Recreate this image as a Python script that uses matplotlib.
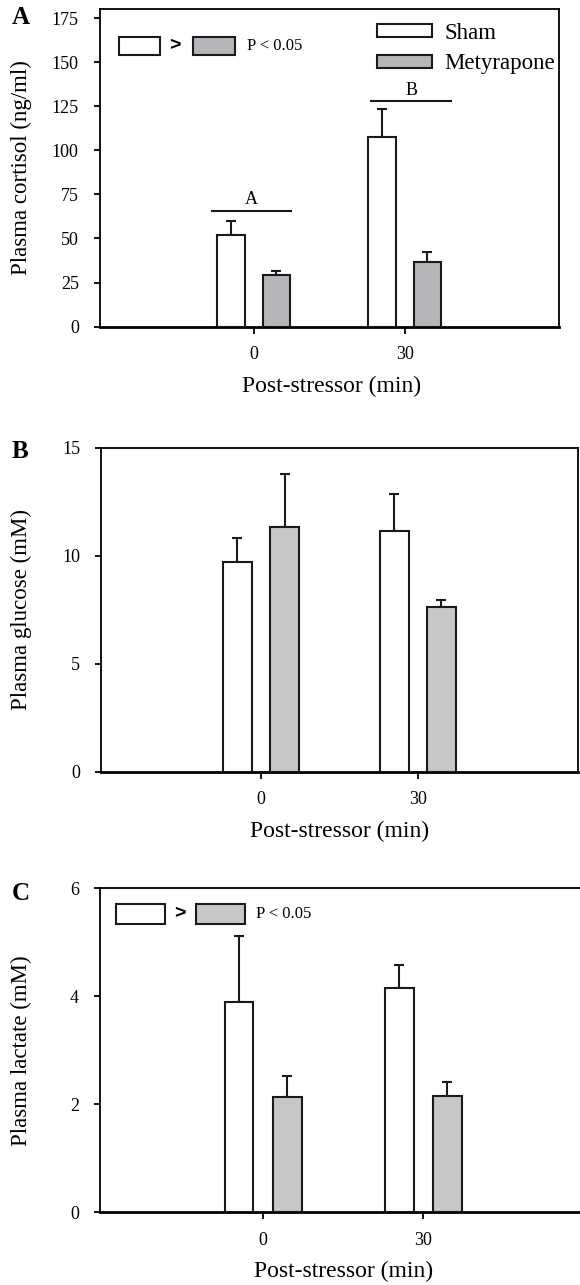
import matplotlib
matplotlib.use("Agg")
import matplotlib.pyplot as plt
from matplotlib.patches import Rectangle
import numpy as np

plt.rcParams['font.family'] = ['Liberation Serif', 'DejaVu Serif']

# --- データ ---
times = ["0", "30"]
groups = ["Sham", "Metyrapone"]

cortisol_sham = [52.0, 107.6]
cortisol_sham_err = [7.8, 15.9]
cortisol_mety = [29.1, 36.5]
cortisol_mety_err = [2.5, 6.1]

glucose_sham = [9.71, 11.14]
glucose_sham_err = [1.12, 1.70]
glucose_mety = [11.34, 7.61]
glucose_mety_err = [2.44, 0.34]

lactate_sham = [3.89, 4.15]
lactate_sham_err = [1.22, 0.43]
lactate_mety = [2.13, 2.15]
lactate_mety_err = [0.39, 0.27]

# 有意差ライン (A, B)
sig_labels = ["A", "B"]
sig_y = [65.6, 127.7]

GREY_A = "#b4b6b9"
GREY_BC = "#c6c7c8"

fig = plt.figure(figsize=(5.8, 12.85), dpi=100)

def panel(rect, sham, sham_err, mety, mety_err, ylim, yticks, ylabel, grey, ylab_x):
    ax = fig.add_axes(rect)
    x = np.arange(len(times))
    w = 0.18
    ax.bar(x - 0.15, sham, w, color="white", edgecolor="#1a1a1a", linewidth=1.5, zorder=3, label=groups[0])
    ax.bar(x + 0.15, mety, w, color=grey, edgecolor="#1a1a1a", linewidth=1.5, zorder=3, label=groups[1])
    ax.errorbar(x - 0.15, sham, yerr=[np.zeros(len(sham)), sham_err], fmt="none",
                ecolor="#1a1a1a", elinewidth=1.5, capsize=3.6, capthick=1.5, zorder=2)
    ax.errorbar(x + 0.15, mety, yerr=[np.zeros(len(mety)), mety_err], fmt="none",
                ecolor="#1a1a1a", elinewidth=1.5, capsize=3.6, capthick=1.5, zorder=2)
    ax.set_xlim(-1.02, 2.02)
    ax.set_ylim(*ylim)
    ax.set_xticks(x)
    ax.set_xticklabels(times)
    ax.set_yticks(yticks)
    ax.tick_params(axis="both", direction="out", length=4, width=1.3, labelsize=13, pad=11)
    ax.tick_params(axis="x", length=5, pad=9)
    for s in ["top", "right", "left"]:
        ax.spines[s].set_linewidth(1.3)
    ax.spines["bottom"].set_linewidth(2.0)
    ax.set_ylabel(ylabel, fontsize=16.5)
    ax.yaxis.set_label_coords(ylab_x, 0.5)
    ax.set_xlabel("Post-stressor (min)", fontsize=17)
    return ax

def sig_legend(ax, x0, x1, x2, x3, y0, y1, gx, tx, grey):
    ax.add_patch(Rectangle((x0, y0), x1 - x0, y1 - y0, transform=ax.transAxes,
                           facecolor="white", edgecolor="#1a1a1a", linewidth=1.5, zorder=4))
    ax.add_patch(Rectangle((x2, y0), x3 - x2, y1 - y0, transform=ax.transAxes,
                           facecolor=grey, edgecolor="#1a1a1a", linewidth=1.5, zorder=4))
    ax.text(gx, (y0 + y1) / 2, ">", transform=ax.transAxes, ha="center", va="center",
            fontsize=14, fontweight="bold", family=["Liberation Sans", "DejaVu Sans"])
    ax.text(tx, (y0 + y1) / 2, "P < 0.05", transform=ax.transAxes, ha="left", va="center", fontsize=12)

# --- A ---
axA = panel([0.1717, 0.7458, 0.7916, 0.2470], cortisol_sham, cortisol_sham_err,
            cortisol_mety, cortisol_mety_err, (0, 180), np.arange(0, 176, 25),
            "Plasma cortisol (ng/ml)", GREY_A, -0.147)
axA.xaxis.set_label_coords(0.506, -0.155)
sig_legend(axA, 0.042, 0.132, 0.2035, 0.295, 0.856, 0.913, 0.164, 0.321, GREY_A)
sig_x = [(-0.274, 0.25), (0.78, 1.305)]
for lab, yv, (xa, xb) in zip(sig_labels, sig_y, sig_x):
    axA.plot([xa, xb], [yv, yv], color="#1a1a1a", linewidth=1.5, zorder=3)
    axA.text((xa + xb) / 2, yv + 1.5, lab, ha="center", va="bottom", fontsize=13)
axA.legend(loc="upper left", bbox_to_anchor=(0.604, 0.958), frameon=False, fontsize=16.5,
           handlelength=2.4, handleheight=0.5, handletextpad=0.55, labelspacing=0.42,
           borderpad=0, borderaxespad=0)

# --- B ---
axB = panel([0.1741, 0.3995, 0.8224, 0.2521], glucose_sham, glucose_sham_err,
            glucose_mety, glucose_mety_err, (0, 15), [0, 5, 10, 15],
            "Plasma glucose (mM)", GREY_BC, -0.145)
axB.xaxis.set_label_coords(0.501, -0.151)

# --- C ---
axC = panel([0.1717, 0.0566, 0.8403, 0.2521], lactate_sham, lactate_sham_err,
            lactate_mety, lactate_mety_err, (0, 6), [0, 2, 4, 6],
            "Plasma lactate (mM)", GREY_BC, -0.138)
axC.xaxis.set_label_coords(0.501, -0.149)
sig_legend(axC, 0.034, 0.134, 0.198, 0.298, 0.89, 0.9515, 0.164, 0.320, GREY_BC)

# パネルラベル
for lab, yy in zip(["A", "B", "C"], [0.986, 0.6485, 0.305]):
    fig.text(0.02, yy, lab, fontsize=18, fontweight="bold", va="center", ha="left")

fig.savefig("out.png", dpi=100)
